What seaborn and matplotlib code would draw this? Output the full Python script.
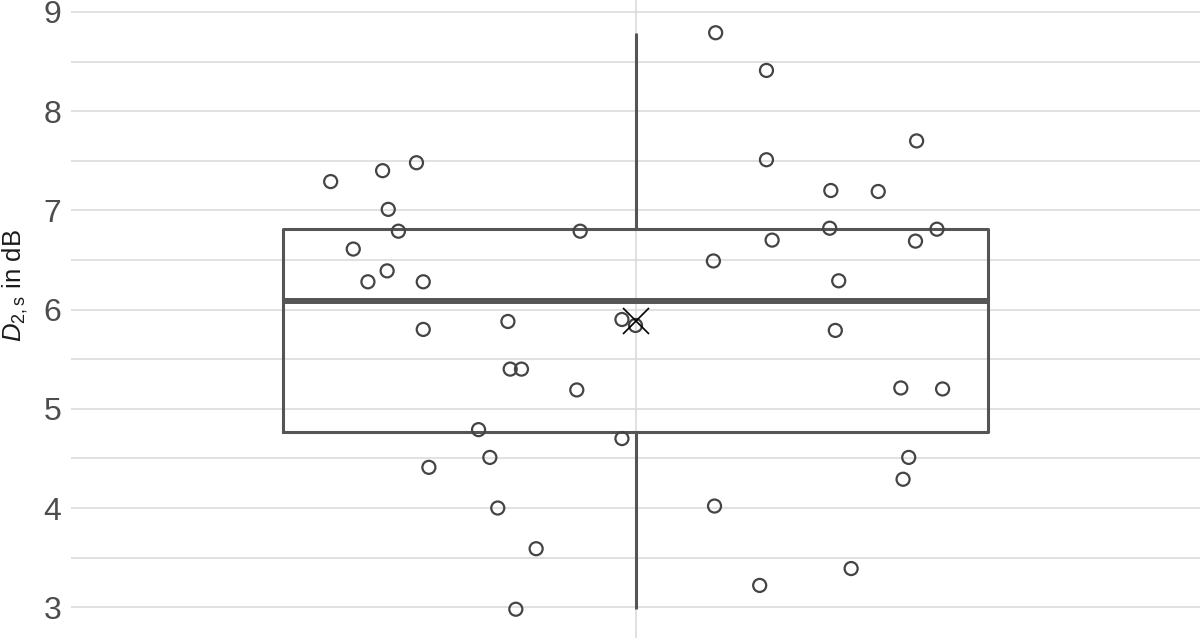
import numpy as np
import pandas as pd
import matplotlib
matplotlib.use("Agg")
import matplotlib.pyplot as plt
import seaborn as sns

# values (dB) and horizontal jitter of each point
d2s_left = [7.29, 7.40, 7.48, 7.01, 6.79, 6.61, 6.39, 6.28, 6.28, 5.80,
            6.79, 5.88, 5.40, 5.40, 5.19, 5.90, 5.84, 4.79, 4.70, 4.51,
            4.41, 4.00, 3.59, 2.98]
jit_left = [-0.270, -0.224, -0.194, -0.219, -0.210, -0.250, -0.220, -0.237,
            -0.188, -0.188, -0.049, -0.113, -0.111, -0.101, -0.052, -0.012,
            0.000, -0.139, -0.012, -0.129, -0.183, -0.122, -0.088, -0.106]
d2s_right = [8.79, 8.41, 7.70, 7.51, 7.20, 7.19, 6.82, 6.81, 6.70, 6.69,
             6.49, 6.29, 5.79, 5.21, 5.20, 4.51, 4.29, 4.02, 3.39, 3.22]
jit_right = [0.071, 0.116, 0.249, 0.116, 0.173, 0.215, 0.172, 0.267, 0.121,
             0.248, 0.069, 0.180, 0.177, 0.235, 0.272, 0.242, 0.237, 0.070,
             0.191, 0.110]
yticks = [3, 4, 5, 6, 7, 8, 9]

df = pd.DataFrame({"D2s": d2s_left + d2s_right,
                   "jit": jit_left + jit_right})

sns.set_style("whitegrid")
plt.rcParams["font.family"] = ["Liberation Sans", "DejaVu Sans"]
plt.rcParams["mathtext.fontset"] = "custom"
plt.rcParams["mathtext.rm"] = "Liberation Sans"
plt.rcParams["mathtext.it"] = "Liberation Sans:italic"

fig = plt.figure(figsize=(12, 6.38), dpi=100)
ax = fig.add_axes([71/1200, 0, 1129/1200, 1])

box_c = "#555555"
sns.boxplot(data=df, y="D2s", width=0.6245, ax=ax, fill=False,
            color=box_c, linewidth=2.2, showcaps=False, whis=1.5,
            showmeans=True, showfliers=False,
            medianprops=dict(color=box_c, linewidth=4.3),
            meanprops=dict(marker="x", markeredgecolor="black",
                           markersize=19, markeredgewidth=1.2, zorder=6))

sns.scatterplot(data=df, x="jit", y="D2s", ax=ax, s=88, marker="o",
                facecolors="none", edgecolor="#444444", linewidth=1.6,
                zorder=5)

ax.set_yticks(yticks)
ax.set_yticks(np.arange(3, 9.5, 0.5), minor=True)
ax.set_xticks([0])
ax.set_xticklabels([""])
ax.set_xlim(-0.5, 0.5)
ax.set_ylim(2.69, 9.12)
ax.grid(True, which="both", axis="y", color="#d9d9d9", linewidth=1.1)
ax.grid(True, which="major", axis="x", color="#d9d9d9", linewidth=1.1)
ax.set_axisbelow(True)
for s in ax.spines.values():
    s.set_visible(False)
ax.tick_params(axis="y", which="both", length=0, labelsize=23,
               labelcolor="#4d4d4d", pad=7)
ax.tick_params(axis="x", length=0)
ax.set_xlabel("")
ax.set_ylabel(r"$D_{2,\mathrm{s}}$ in dB", fontsize=18.5, color="#1a1a1a")
ax.yaxis.set_label_coords(-0.036, 0.552)

fig.savefig("out.png", dpi=100)
